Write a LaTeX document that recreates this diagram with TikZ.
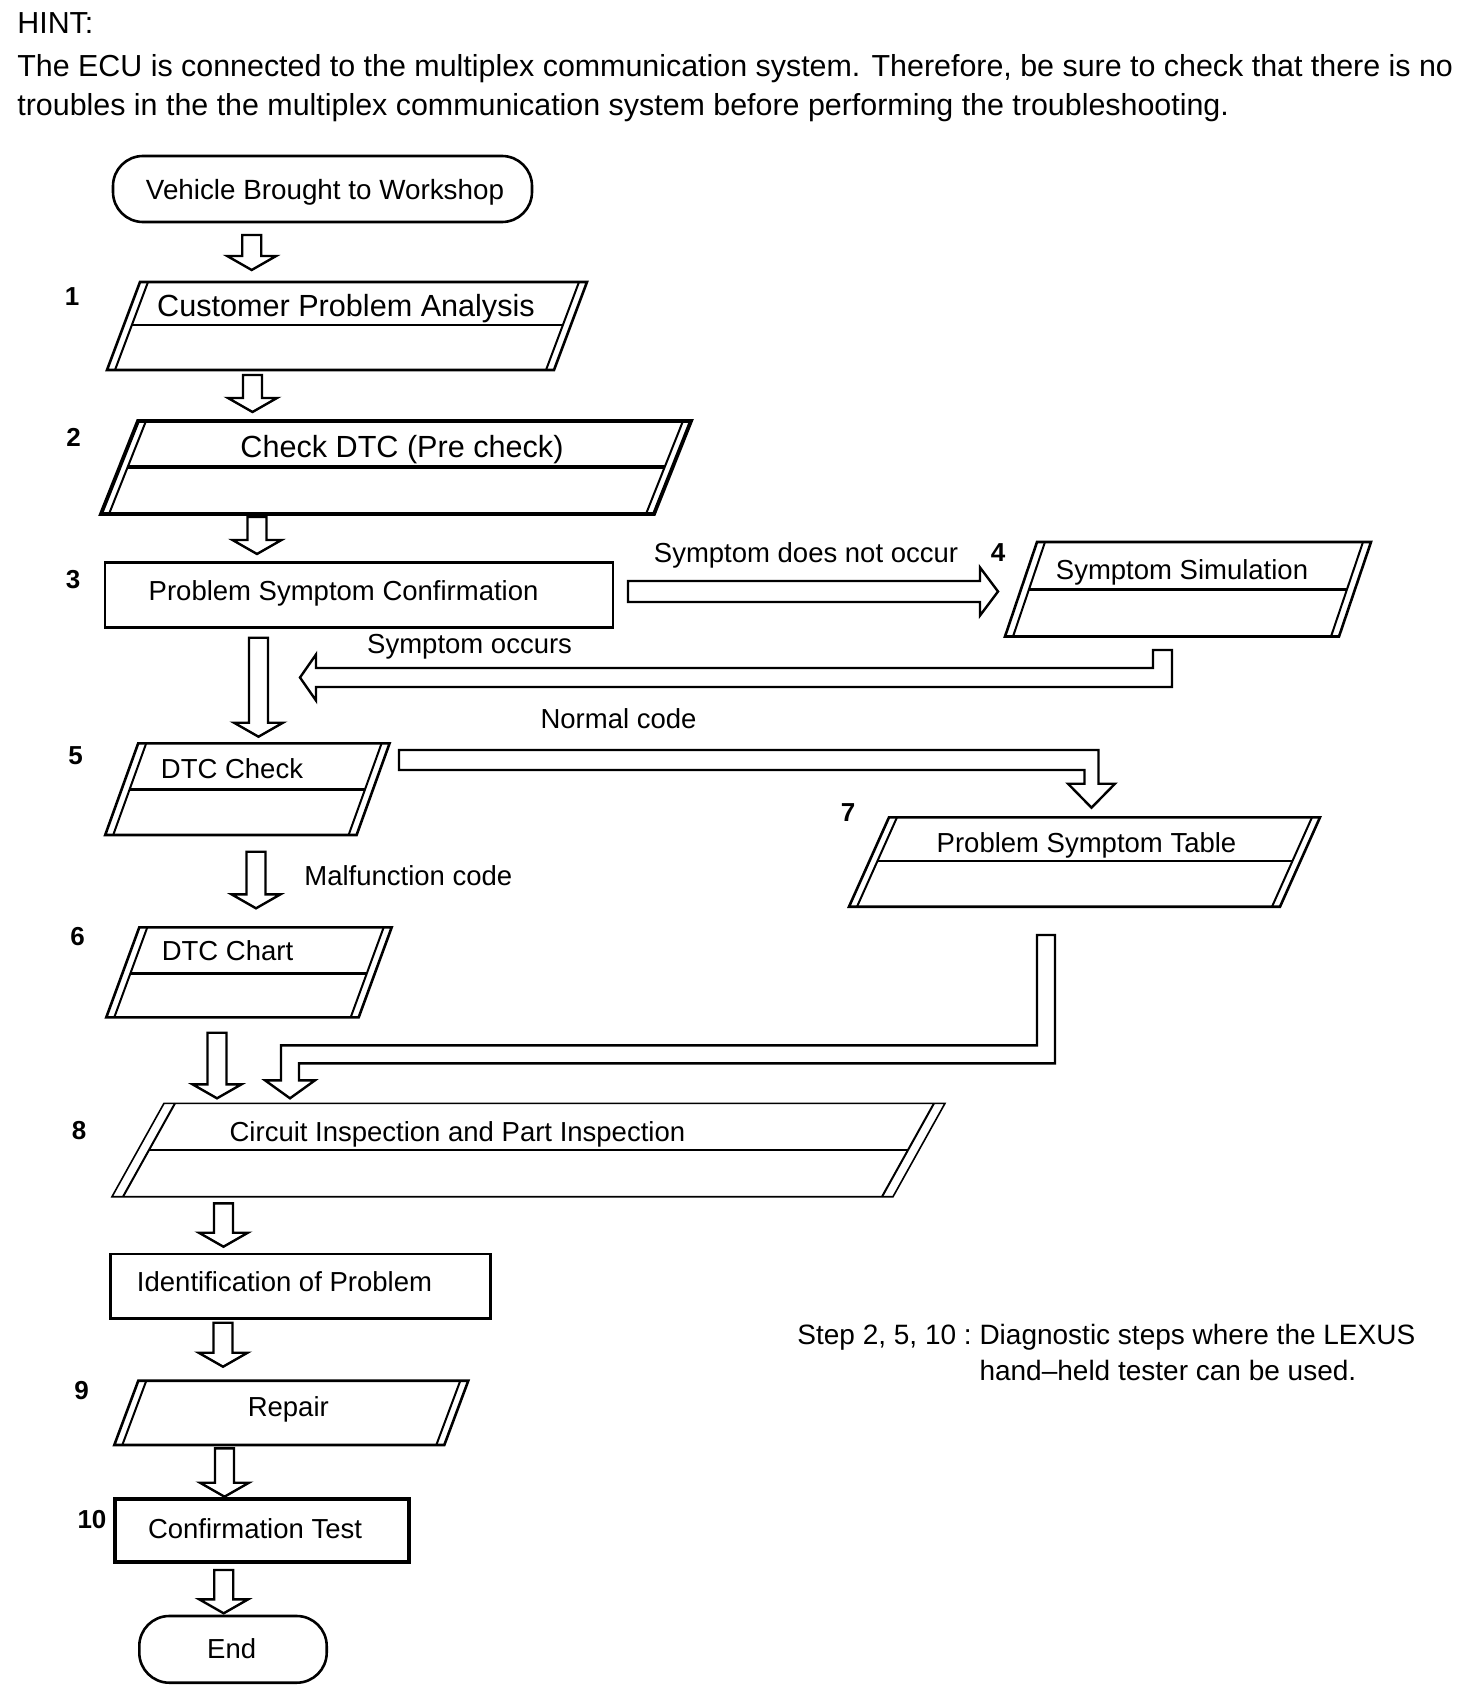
\documentclass[tikz,border=0pt]{standalone}
\usepackage{fontspec}
\setmainfont{Liberation Sans}
\usetikzlibrary{calc}

% parallelogram with doubled slanted sides: [style] TL x, TR x, top y, bottom y, slant, inner offset
\newcommand{\dblpara}[7][boxline]{%
  \draw[#1] (#2,#4) -- (#3,#4) -- ({#3-#6},#5) -- ({#2-#6},#5) -- cycle;
  \draw[innerline] ({#2+#7},#4) -- ({#2-#6+#7},#5);
  \draw[innerline] ({#3-#7},#4) -- ({#3-#6-#7},#5);}
% divider inside such a parallelogram, last argument is its y
\newcommand{\paradiv}[8][divline]{%
  \draw[#1] ({#2-#6*(#8-#4)/(#5-#4)+#7},#8) -- ({#3-#6*(#8-#4)/(#5-#4)-#7},#8);}
% hollow block arrows between two named coordinates
\newcommand{\hollowdown}[2]{%
  \draw[hollow] ($(#1)+(-9.5,0)$) -- ($(#1)+(9.5,0)$) -- ($(#2)+(9.5,-14)$) -- ($(#2)+(24.5,-14)$) -- (#2)
    -- ($(#2)+(-24.5,-14)$) -- ($(#2)+(-9.5,-14)$) -- cycle;}
\newcommand{\hollowright}[2]{%
  \draw[hollow] ($(#1)+(0,-10.5)$) -- ($(#2)+(-18,-10.5)$) -- ($(#2)+(-18,-24)$) -- (#2)
    -- ($(#2)+(-18,24)$) -- ($(#2)+(-18,10.5)$) -- ($(#1)+(0,10.5)$) -- cycle;}

\begin{document}
\begin{tikzpicture}[x=0.5pt,y=0.5pt,yscale=-1,xscale=1,
  boxline/.style={line width=1.3pt},
  heavyline/.style={line width=1.9pt},
  thinline/.style={line width=0.8pt},
  innerline/.style={line width=1pt},
  divline/.style={line width=1.2pt},
  hollow/.style={draw, fill=white, line width=1.2pt},
  txt/.style={inner sep=0pt, anchor=base, font=\fontsize{13.75}{16}\selectfont},
  bigtxt/.style={txt, font=\fontsize{15.3}{18}\selectfont},
  hint/.style={inner sep=0pt, anchor=base west, font=\fontsize{15.2}{18}\selectfont},
  stepno/.style={inner sep=0pt, font=\fontsize{13}{15}\selectfont\bfseries}]
\useasboundingbox (0,0) rectangle (1472,1696);

%Shape: Rounded Rectangle
\draw[boxline, rounded corners=15pt] (113,156) rectangle (532,222);
%Shape: Parallelogram
\dblpara{140}{587}{282}{370}{33}{8}
\paradiv{140}{587}{282}{370}{33}{8}{325}
%Shape: Parallelogram
\dblpara[heavyline]{138}{691}{421}{514}{37}{8}
\paradiv[heavyline]{138}{691}{421}{514}{37}{8}{467}
%Shape: Rectangle
\draw[boxline] (105,562.7) rectangle (613,627.3);
%Shape: Parallelogram
\dblpara{1037}{1371}{542}{636.5}{32}{8}
\paradiv{1037}{1371}{542}{636.5}{32}{8}{589.6}
%Shape: Parallelogram
\dblpara{138.2}{389.6}{743.3}{835}{33}{8}
\paradiv{138.2}{389.6}{743.3}{835}{33}{8}{789.3}
%Shape: Parallelogram
\dblpara{139.3}{391.7}{927.3}{1017.3}{33}{8}
\paradiv{139.3}{391.7}{927.3}{1017.3}{33}{8}{973.3}
%Shape: Parallelogram
\dblpara{889}{1320}{817.3}{906.7}{40}{8}
\paradiv{889}{1320}{817.3}{906.7}{40}{8}{861}
%Shape: Parallelogram
\dblpara[thinline]{164}{945}{1103.3}{1196.7}{52}{11}
\paradiv[thinline]{164}{945}{1103.3}{1196.7}{52}{11}{1150}
%Shape: Rectangle
\draw[boxline] (110.7,1254) rectangle (490.7,1318.3);
%Shape: Parallelogram
\dblpara{138.3}{468.3}{1380.7}{1445}{24}{8}
%Shape: Rectangle
\draw[heavyline] (115,1499.3) rectangle (409.3,1561.7);
%Shape: Rounded Rectangle
\draw[boxline, rounded corners=15pt] (139.3,1616) rectangle (326.7,1682.7);

% arrow ends
\coordinate (a1s) at (251.7,235);    \coordinate (a1e) at (251.7,270);
\coordinate (a2s) at (252.5,375);    \coordinate (a2e) at (252.5,412);
\coordinate (a3s) at (257,517);      \coordinate (a3e) at (257,554);
\coordinate (a4s) at (628,591.5);    \coordinate (a4e) at (998,591.5);
\coordinate (a5s) at (258.5,637.7);  \coordinate (a5e) at (258.5,736.7);
\coordinate (r4s) at (1162.5,650);   \coordinate (r4b) at (1162.5,677.5);  \coordinate (r4e) at (300,677.5);
\coordinate (n5s) at (399,760);      \coordinate (n5b) at (1091.5,760);    \coordinate (n5e) at (1091.5,807.7);
\coordinate (a6s) at (256,851.7);    \coordinate (a6e) at (256,908.3);
\coordinate (a7s) at (217,1032.7);   \coordinate (a7e) at (217,1098.3);
\coordinate (t7s) at (1046,935);     \coordinate (t7b) at (1046,1054.3);
\coordinate (t7c) at (290,1054.3);   \coordinate (t7e) at (290,1098.3);
\coordinate (a8s) at (223.5,1203.3); \coordinate (a8e) at (223.5,1246.7);
\coordinate (a9s) at (223,1322.7);   \coordinate (a9e) at (223,1366.7);
\coordinate (a10s) at (224.5,1448.3); \coordinate (a10e) at (224.5,1496.7);
\coordinate (a11s) at (223.7,1570);  \coordinate (a11e) at (223.7,1613.3);

%Block Arrows
\hollowdown{a1s}{a1e}
\hollowdown{a2s}{a2e}
\hollowdown{a3s}{a3e}
\hollowright{a4s}{a4e}
\hollowdown{a5s}{a5e}
\draw[hollow] ($(r4s)+(-9.5,0)$) -- ($(r4s)+(9.5,0)$) -- ($(r4b)+(9.5,9.5)$) -- ($(r4e)+(16,9.5)$) -- ($(r4e)+(16,23)$) -- (r4e)
  -- ($(r4e)+(16,-23)$) -- ($(r4e)+(16,-9.5)$) -- ($(r4b)+(-9.5,-9.5)$) -- cycle;
\draw[hollow] ($(n5s)+(0,-10)$) -- ($(n5b)+(7,-10)$) -- ($(n5e)+(7,-24)$) -- ($(n5e)+(23.5,-24)$) -- (n5e)
  -- ($(n5e)+(-23.5,-24)$) -- ($(n5e)+(-7,-24)$) -- ($(n5b)+(-7,10)$) -- ($(n5s)+(0,10)$) -- cycle;
\hollowdown{a6s}{a6e}
\hollowdown{a7s}{a7e}
\draw[hollow] ($(t7s)+(-9,0)$) -- ($(t7s)+(9,0)$) -- ($(t7b)+(9,9)$) -- ($(t7c)+(9,9)$) -- ($(t7e)+(9,-18)$) -- ($(t7e)+(25,-18)$) -- (t7e)
  -- ($(t7e)+(-25,-18)$) -- ($(t7e)+(-9,-18)$) -- ($(t7c)+(-9,-9)$) -- ($(t7b)+(-9,-9)$) -- cycle;
\hollowdown{a8s}{a8e}
\hollowdown{a9s}{a9e}
\hollowdown{a10s}{a10e}
\hollowdown{a11s}{a11e}

% Text Node
\node[hint] (hint) at (17,33.5) {HINT:};
\node[hint] (hinta) at (17,76.5) {The ECU is connected to the multiplex communication system. Therefore, be sure to check that there is no};
\node[hint] (hintb) at (17,116) {troubles in the the multiplex communication system before performing the troubleshooting.};
% Text Node
\node[txt, font=\fontsize{13.9}{16}\selectfont] (vehicle) at (325,200) {Vehicle Brought to Workshop};
\node[bigtxt] (analysis) at (346,316.7) {Customer Problem Analysis};
\node[bigtxt] (precheck) at (402,457) {Check DTC (Pre check)};
\node[txt] (confirm) at (343.6,600) {Problem Symptom Confirmation};
\node[txt] (simulate) at (1182,579.5) {Symptom Simulation};
\node[txt] (noccur) at (806,562) {Symptom does not occur};
\node[txt] (occur) at (469.6,653) {Symptom occurs};
\node[txt] (normal) at (618.5,728.3) {Normal code};
\node[txt] (dtccheck) at (232,778.3) {DTC Check};
\node[txt] (malfunc) at (408.3,885) {Malfunction code};
\node[txt] (dtcchart) at (227.5,960) {DTC Chart};
\node[txt] (symtable) at (1086.5,852.7) {Problem Symptom Table};
\node[txt] (inspect) at (457.4,1141) {Circuit Inspection and Part Inspection};
\node[txt] (identify) at (284.5,1291.7) {Identification of Problem};
\node[txt] (repair) at (288.3,1416.7) {Repair};
\node[txt] (test) at (255,1538) {Confirmation Test};
\node[txt] (finish) at (231.7,1658.3) {End};
% Text Node
\node[inner sep=0pt, anchor=base west, font=\fontsize{14}{17.75}\selectfont] (note) at (797,1344.6)
  {\begin{tabular}[t]{@{}l@{\ }l@{}}Step 2, 5, 10 :&Diagnostic steps where the LEXUS\\&hand–held tester can be used.\end{tabular}};
% Text Node
\node[stepno] (n1) at (72,297) {1};
\node[stepno] (n2) at (73.5,437) {2};
\node[stepno] (n3) at (73,580) {3};
\node[stepno] (n4) at (998,553) {4};
\node[stepno] (n5) at (75.5,755.5) {5};
\node[stepno] (n6) at (77.5,937) {6};
\node[stepno] (n7) at (848,812.5) {7};
\node[stepno] (n8) at (79,1131) {8};
\node[stepno] (n9) at (81.5,1390.5) {9};
\node[stepno] (n10) at (92,1519.5) {10};

\end{tikzpicture}
\end{document}
